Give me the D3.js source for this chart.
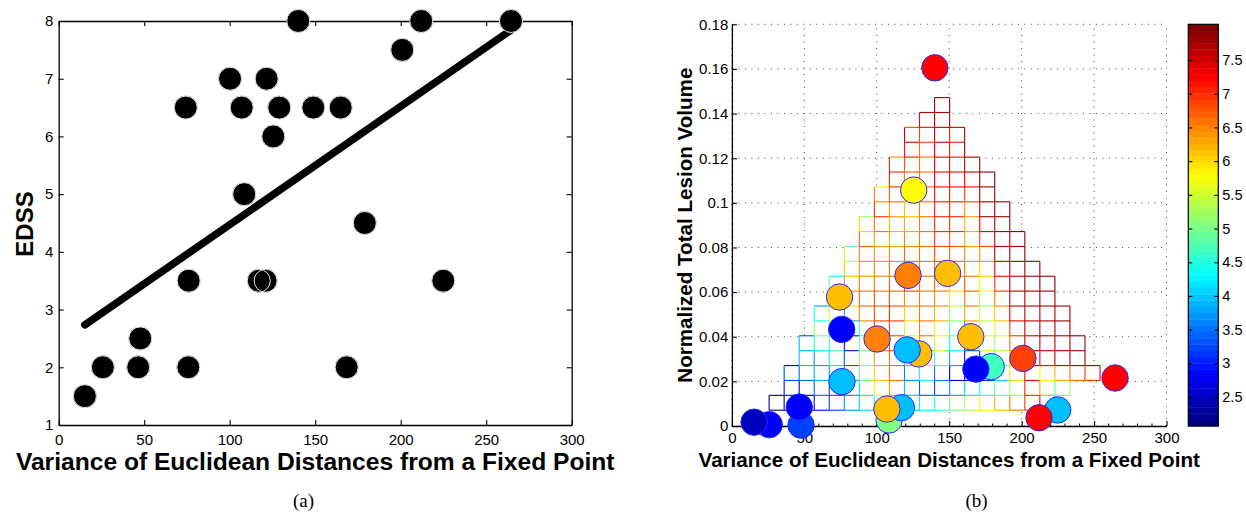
<!DOCTYPE html>
<html><head><meta charset="utf-8">
<script src="https://cdn.jsdelivr.net/npm/d3@7"></script>
<style>
body{margin:0;background:#fff;}
svg{display:block;}
text{fill:#000;}
</style>
</head><body>
<svg id="c" width="1246" height="512"></svg>
<script>
// ---------------- data (one entry per subject) ----------------
const variance     = [25.8, 15.3, 47.7, 46.5, 75.8, 76.0, 74.3, 100.2, 108.5, 117.0, 107.0, 129.0, 121.0, 121.6, 125.5, 140.1, 148.9, 164.9, 179.0, 168.4, 200.9, 224.9, 212.0, 264.5];
const edss         = [2, 1.5, 2.5, 2, 2, 3.5, 6.5, 7, 5, 3.5, 6.5, 6.5, 3.5, 7, 6, 8, 6.5, 6.5, 4.5, 2, 7.5, 3.5, 8, 8];
const lesionVolume = [0.0006, 0.0017, 0.0004, 0.0085, 0.0433, 0.0199, 0.0578, 0.0390, 0.0027, 0.0082, 0.0076, 0.0323, 0.0341, 0.0675, 0.1057, 0.1605, 0.0684, 0.0400, 0.0266, 0.0255, 0.0303, 0.0072, 0.0037, 0.0215];

const xTicks = [0, 50, 100, 150, 200, 250, 300];
const xTickLabels = ["0", "50", "100", "150", "200", "250", "300"];
const edssTicks = [1, 2, 3, 4, 5, 6, 7, 8];
const edssTickLabels = ["1", "2", "3", "4", "5", "6", "7", "8"];
const lesionTicks = [0, 0.02, 0.04, 0.06, 0.08, 0.1, 0.12, 0.14, 0.16, 0.18];
const lesionTickLabels = ["0", "0.02", "0.04", "0.06", "0.08", "0.1", "0.12", "0.14", "0.16", "0.18"];
const colorTicks = [2.5, 3, 3.5, 4, 4.5, 5, 5.5, 6, 6.5, 7, 7.5];
const colorTickLabels = ["2.5", "3", "3.5", "4", "4.5", "5", "5.5", "6", "6.5", "7", "7.5"];
const colorLimits = [2.07, 8.03];     // colour-bar range of the mesh
const markerColorLimits = [1, 9];     // range used for the circles
const gridCount = 25;                 // griddata mesh size
const xLabel = "Variance of Euclidean Distances from a Fixed Point";
const yLabelA = "EDSS";
const yLabelB = "Normalized Total Lesion Volume";

const SANS = '"Liberation Sans",Arial,Helvetica,sans-serif';
const SERIF = '"Liberation Serif","Times New Roman",serif';

// ---------------- helpers ----------------
function jet(t) {
  const c = v => Math.max(0, Math.min(1, v));
  return d3.rgb(255 * c(1.5 - Math.abs(4 * t - 3)), 255 * c(1.5 - Math.abs(4 * t - 2)), 255 * c(1.5 - Math.abs(4 * t - 1))).formatHex();
}
const jet64 = d3.range(64).map(k => jet(k / 63));
function meshColor(z) {
  let k = Math.floor((z - colorLimits[0]) / (colorLimits[1] - colorLimits[0]) * 64);
  k = Math.max(0, Math.min(63, k));
  return jet64[k];
}
function markerColor(v) {
  return jet((v - markerColorLimits[0]) / (markerColorLimits[1] - markerColorLimits[0]));
}

const svg = d3.select("#c");
const n = variance.length;

// =============== (a) EDSS vs variance ===============
const A = {l: 58.7, r: 571.7, t: 21, b: 425};
const xA = d3.scaleLinear().domain([0, 300]).range([A.l, A.r]);
const yA = d3.scaleLinear().domain([1, 8]).range([A.b, A.t]);
const gA = svg.append("g");

function styleAxis(g, fs) {
  g.selectAll("path.domain").attr("stroke", "#000").attr("stroke-width", 1.3);
  g.selectAll(".tick line").attr("stroke", "#000").attr("stroke-width", 1.1);
  g.selectAll("text").attr("font-size", fs).style("font-family", SANS).attr("fill", "#000");
}
gA.append("g").attr("transform", `translate(0,${A.b})`)
  .call(d3.axisBottom(xA).tickValues(xTicks).tickFormat((d, i) => xTickLabels[i]).tickSizeInner(-5).tickSizeOuter(0).tickPadding(9.3))
  .call(g => styleAxis(g, 15));
gA.append("g").attr("transform", `translate(0,${A.t})`)
  .call(d3.axisTop(xA).tickValues(xTicks).tickFormat("").tickSizeInner(-5).tickSizeOuter(0))
  .call(g => styleAxis(g, 15));
gA.append("g").attr("transform", `translate(${A.l},0)`)
  .call(d3.axisLeft(yA).tickValues(edssTicks).tickFormat((d, i) => edssTickLabels[i]).tickSizeInner(-5).tickSizeOuter(0).tickPadding(5.4))
  .call(g => styleAxis(g, 15));
gA.append("g").attr("transform", `translate(${A.r},0)`)
  .call(d3.axisRight(yA).tickValues(edssTicks).tickFormat("").tickSizeInner(-5).tickSizeOuter(0))
  .call(g => styleAxis(g, 15));

// least-squares fit line
const mx = d3.mean(variance), my = d3.mean(edss);
const sxy = d3.sum(variance, (v, i) => (v - mx) * (edss[i] - my));
const sxx = d3.sum(variance, v => (v - mx) * (v - mx));
const slope = sxy / sxx, icpt = my - slope * mx;
const fitX = d3.extent(variance);
gA.append("line")
  .attr("x1", xA(fitX[0])).attr("y1", yA(icpt + slope * fitX[0]))
  .attr("x2", xA(fitX[1])).attr("y2", yA(icpt + slope * fitX[1]))
  .attr("stroke", "#000").attr("stroke-width", 7.5).attr("stroke-linecap", "round");

const idx = d3.range(n);
gA.append("g").selectAll("circle.f").data(idx).join("circle")
  .attr("cx", i => xA(variance[i])).attr("cy", i => yA(edss[i])).attr("r", 11.7).attr("fill", "#000");
gA.append("g").selectAll("circle.s").data(idx).join("circle")
  .attr("cx", i => xA(variance[i])).attr("cy", i => yA(edss[i])).attr("r", 11.5)
  .attr("fill", "none").attr("stroke", "#fff").attr("stroke-width", 0.9);

gA.append("text").attr("x", (A.l + A.r) / 2).attr("y", 470).attr("text-anchor", "middle")
  .style("font-family", SANS).attr("font-size", 24.6).attr("font-weight", "bold").text(xLabel);
gA.append("text").attr("transform", `translate(32.5,${(A.t + A.b) / 2 + 1}) rotate(-90)`).attr("text-anchor", "middle")
  .style("font-family", SANS).attr("font-size", 24).attr("font-weight", "bold").text(yLabelA);
svg.append("text").attr("x", 303.5).attr("y", 507).attr("text-anchor", "middle")
  .style("font-family", SERIF).attr("font-size", 19).text("(a)");

// =============== (b) lesion volume vs variance ===============
const B = {l: 731.9, r: 1166.5, t: 24.3, b: 426};
const xB = d3.scaleLinear().domain([0, 300]).range([B.l, B.r]);
const yB = d3.scaleLinear().domain([0, 0.18]).range([B.b, B.t]);
const gB = svg.append("g");

// dotted grid
const grid = gB.append("g").attr("stroke", "#444").attr("stroke-width", 1).attr("stroke-dasharray", "1,5.5");
grid.selectAll("line.gx").data(xTicks).join("line")
  .attr("x1", d => xB(d)).attr("x2", d => xB(d)).attr("y1", B.b).attr("y2", B.t);
grid.selectAll("line.gy").data(lesionTicks).join("line")
  .attr("y1", d => yB(d)).attr("y2", d => yB(d)).attr("x1", B.l).attr("x2", B.r);

// griddata-style mesh (linear interpolation on the Delaunay triangulation)
const pts = idx.map(i => [variance[i], lesionVolume[i]]);
const del = d3.Delaunay.from(pts);
const tri = del.triangles;
function interp(px, py) {
  for (let t = 0; t < tri.length; t += 3) {
    const a = pts[tri[t]], b = pts[tri[t + 1]], c = pts[tri[t + 2]];
    const det = (b[1] - c[1]) * (a[0] - c[0]) + (c[0] - b[0]) * (a[1] - c[1]);
    const l1 = ((b[1] - c[1]) * (px - c[0]) + (c[0] - b[0]) * (py - c[1])) / det;
    const l2 = ((c[1] - a[1]) * (px - c[0]) + (a[0] - c[0]) * (py - c[1])) / det;
    const l3 = 1 - l1 - l2;
    const eps = -1e-9;
    if (l1 >= eps && l2 >= eps && l3 >= eps)
      return l1 * edss[tri[t]] + l2 * edss[tri[t + 1]] + l3 * edss[tri[t + 2]];
  }
  return NaN;
}
const xr = d3.extent(variance), yr = d3.extent(lesionVolume);
const gxs = d3.range(gridCount).map(k => xr[0] + k * (xr[1] - xr[0]) / (gridCount - 1));
const gys = d3.range(gridCount).map(k => yr[0] + k * (yr[1] - yr[0]) / (gridCount - 1));
const Z = gxs.map(x => gys.map(y => interp(x, y)));
const faces = [];
const edges = new Map();
for (let i = 0; i < gridCount - 1; i++) {
  for (let j = 0; j < gridCount - 1; j++) {
    if ([Z[i][j], Z[i + 1][j], Z[i][j + 1], Z[i + 1][j + 1]].every(Number.isFinite)) {
      faces.push([i, j]);
      [["h", i, j], ["h", i, j + 1], ["v", i, j], ["v", i + 1, j]].forEach(e => edges.set(e.join(","), e));
    }
  }
}
const meshG = gB.append("g");
meshG.selectAll("rect").data(faces).join("rect")
  .attr("x", d => xB(gxs[d[0]])).attr("y", d => yB(gys[d[1] + 1]))
  .attr("width", d => xB(gxs[d[0] + 1]) - xB(gxs[d[0]]))
  .attr("height", d => yB(gys[d[1]]) - yB(gys[d[1] + 1]))
  .attr("fill", "#fff");
meshG.selectAll("line").data([...edges.values()]).join("line")
  .attr("x1", e => xB(gxs[e[1]])).attr("y1", e => yB(gys[e[2]]))
  .attr("x2", e => xB(gxs[e[1] + (e[0] === "h" ? 1 : 0)])).attr("y2", e => yB(gys[e[2] + (e[0] === "v" ? 1 : 0)]))
  .attr("stroke", e => meshColor(Z[e[1]][e[2]])).attr("stroke-width", 1.1);

// axes
gB.append("g").attr("transform", `translate(0,${B.b})`)
  .call(d3.axisBottom(xB).tickValues(xTicks).tickFormat((d, i) => xTickLabels[i]).tickSizeInner(-5).tickSizeOuter(0).tickPadding(6.6))
  .call(g => styleAxis(g, 15));
gB.append("g").selectAll("line").data(d3.range(0, 301, 10).filter(d => d % 50 !== 0)).join("line")
  .attr("x1", d => xB(d)).attr("x2", d => xB(d)).attr("y1", B.b).attr("y2", B.b - 2.5)
  .attr("stroke", "#000").attr("stroke-width", 1);
gB.append("g").attr("transform", `translate(${B.l},0)`)
  .call(d3.axisLeft(yB).tickValues(lesionTicks).tickFormat((d, i) => lesionTickLabels[i]).tickSizeInner(-5).tickSizeOuter(0).tickPadding(3.6))
  .call(g => styleAxis(g, 15));

// circles
gB.append("g").selectAll("circle").data(idx).join("circle")
  .attr("cx", i => xB(variance[i])).attr("cy", i => yB(lesionVolume[i])).attr("r", 13.2)
  .attr("fill", i => markerColor(edss[i])).attr("stroke", "#2a2aff").attr("stroke-width", 1);

gB.append("text").attr("x", (B.l + B.r) / 2).attr("y", 466.5).attr("text-anchor", "middle")
  .style("font-family", SANS).attr("font-size", 20.6).attr("font-weight", "bold").text(xLabel);
gB.append("text").attr("transform", `translate(691.5,${(B.t + B.b) / 2}) rotate(-90)`).attr("text-anchor", "middle")
  .style("font-family", SANS).attr("font-size", 20.6).attr("font-weight", "bold").text(yLabelB);
svg.append("text").attr("x", 976.5).attr("y", 507).attr("text-anchor", "middle")
  .style("font-family", SERIF).attr("font-size", 19).text("(b)");

// colour bar
const C = {l: 1188.3, r: 1218.3, t: 24.3, b: 426};
const yC = d3.scaleLinear().domain(colorLimits).range([C.b, C.t]);
const gC = svg.append("g");
const bandV = k => colorLimits[0] + k * (colorLimits[1] - colorLimits[0]) / 64;
gC.selectAll("rect.band").data(d3.range(64)).join("rect")
  .attr("x", C.l).attr("width", C.r - C.l)
  .attr("y", k => yC(bandV(k + 1)))
  .attr("height", k => yC(bandV(k)) - yC(bandV(k + 1)) + 0.4)
  .attr("fill", k => jet64[k]);
gC.append("rect").attr("x", C.l).attr("y", C.t).attr("width", C.r - C.l).attr("height", C.b - C.t)
  .attr("fill", "none").attr("stroke", "#000").attr("stroke-width", 1.2);
gC.append("g").attr("transform", `translate(${C.r},0)`)
  .call(d3.axisRight(yC).tickValues(colorTicks).tickFormat((d, i) => colorTickLabels[i]).tickSizeInner(-4).tickSizeOuter(0).tickPadding(4))
  .call(g => { styleAxis(g, 14.5); g.select("path.domain").remove(); });
gC.append("g").attr("transform", `translate(${C.l},0)`)
  .call(d3.axisLeft(yC).tickValues(colorTicks).tickFormat("").tickSizeInner(-4).tickSizeOuter(0))
  .call(g => { styleAxis(g, 14.5); g.select("path.domain").remove(); });
</script>
</body></html>
